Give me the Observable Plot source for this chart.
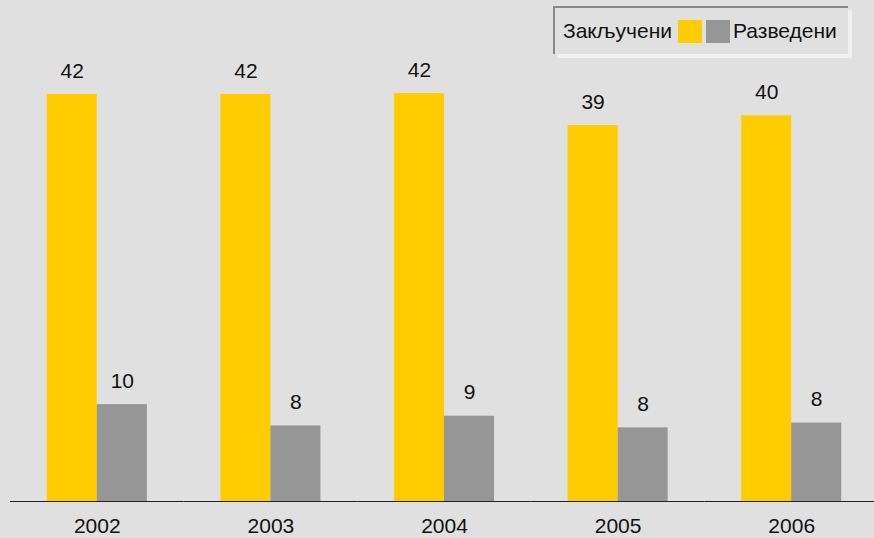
<!DOCTYPE html>
<html>
<head>
<meta charset="utf-8">
<script src="https://cdn.jsdelivr.net/npm/d3@7"></script>
<script src="https://cdn.jsdelivr.net/npm/@observablehq/plot@0.6"></script>
<style>
  html, body { margin: 0; padding: 0; background: #e0e0e0; }
  #wrap { position: relative; width: 874px; height: 538px; font-family: "Liberation Sans", Arial, sans-serif; }
  #legend {
    position: absolute; left: 553px; top: 6px; width: 295px; height: 48px;
    box-sizing: border-box;
    border-top: 2px solid #888; border-left: 2px solid #888;
    background: #e0e0e0; box-shadow: 4px 4px 0 #f0f0f0;
    display: flex; align-items: center; padding-left: 8px;
    font-size: 21px; color: #111;
  }
  .sw { display: inline-block; width: 24px; height: 23px; }
</style>
</head>
<body>
<div id="wrap"></div>
<script>
const years = ["2002", "2003", "2004", "2005", "2006"];
const series = ["Закључени", "Разведени"];
const zakljuceni = [42.0, 42.0, 42.1, 38.8, 39.8];
const razvedeni = [10.0, 7.8, 8.8, 7.6, 8.1];
const colors = ["#ffcc00", "#969696"];

const data = [];
years.forEach((y, i) => {
  data.push({year: y, series: series[0], value: zakljuceni[i]});
  data.push({year: y, series: series[1], value: razvedeni[i]});
});

const fmt = d3.format(".0f");

const chart = Plot.plot({
  width: 874,
  height: 538,
  marginLeft: 10,
  marginRight: -4,
  marginTop: 16.5,
  marginBottom: 37,
  style: {background: "#e0e0e0", fontFamily: "'Liberation Sans', Arial, sans-serif", fontSize: "21px", color: "#111"},
  fx: {domain: years, padding: 0, round: false, axis: "bottom", label: null, tickSize: 0, tickPadding: 17, fontSize: 21},
  x: {domain: series, paddingInner: 0, paddingOuter: 0.735, round: false, axis: null},
  y: {domain: [0, 50], axis: null},
  color: {domain: series, range: colors},
  marks: [
    Plot.barY(data, {fx: "year", x: "series", y: "value", fill: "series"}),
    Plot.text(data, {fx: "year", x: "series", y: "value", text: d => fmt(d.value), lineAnchor: "bottom", dy: -17, fontSize: 21, fill: "#111"}),
    Plot.ruleY([0], {stroke: "#222", strokeWidth: 1.2})
  ]
});

const wrap = document.getElementById("wrap");
wrap.appendChild(chart);

const legend = document.createElement("div");
legend.id = "legend";
legend.innerHTML =
  `<span>${series[0]}</span>` +
  `<span class="sw" style="background:${colors[0]};margin-left:6px"></span>` +
  `<span class="sw" style="background:${colors[1]};margin-left:4px"></span>` +
  `<span style="margin-left:3px">${series[1]}</span>`;
wrap.appendChild(legend);
</script>
</body>
</html>
